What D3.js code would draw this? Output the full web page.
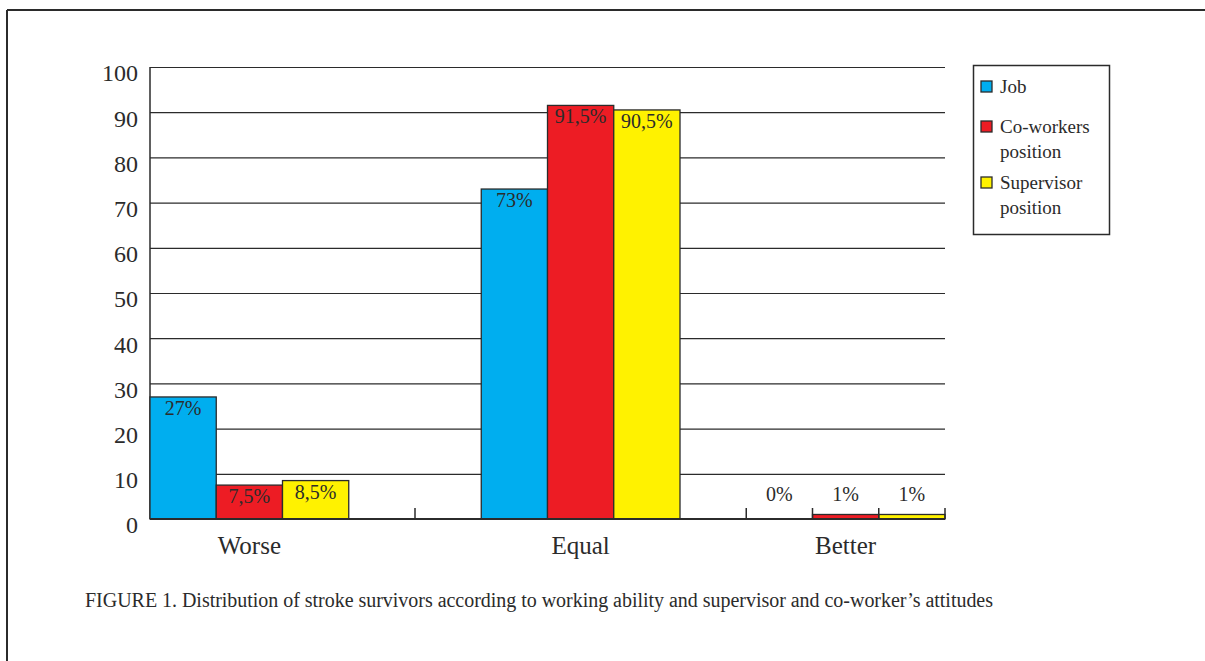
<!DOCTYPE html>
<html>
<head>
<meta charset="utf-8">
<script src="https://cdn.jsdelivr.net/npm/d3@7/dist/d3.min.js"></script>
<style>
  html, body { margin: 0; padding: 0; background: #fff; }
  svg { display: block; }
  text { font-family: "Liberation Serif", "DejaVu Serif", serif; fill: #2b2b2b; }
</style>
</head>
<body>
<svg id="chart" width="1205" height="661"></svg>
<script>
// Categories and series
const categories = ["Worse", "Equal", "Better"];
const seriesNames = ["Job", "Co-workers position", "Supervisor position"];
const jobValues = [27, 73, 0];
const coworkerValues = [7.5, 91.5, 1];
const supervisorValues = [8.5, 90.5, 1];
const yTickValues = [0, 10, 20, 30, 40, 50, 60, 70, 80, 90, 100];
const captionText = "FIGURE 1. Distribution of stroke survivors according to working ability and supervisor and co-worker\u2019s attitudes";

const seriesColors = ["#00aeef", "#ed1c24", "#fff200"];
const legendLines = [["Job"], ["Co-workers", "position"], ["Supervisor", "position"]];

// Category axis is split into 12 equal slots; each group occupies 3 slots
const slotOffsets = [0, 5, 9];
const tickSlots = [4, 9, 10, 11, 12];

const svg = d3.select("#chart");
const ink = "#2b2b2b";

// Outer frame (top and left rules)
svg.append("line").attr("x1", 7).attr("y1", 10).attr("x2", 1205).attr("y2", 10)
  .attr("stroke", ink).attr("stroke-width", 2);
svg.append("line").attr("x1", 7).attr("y1", 10).attr("x2", 7).attr("y2", 661)
  .attr("stroke", ink).attr("stroke-width", 2);

const plot = { left: 150, right: 945, top: 67, bottom: 519 };

const y = d3.scaleLinear().domain([0, 100]).range([plot.bottom, plot.top]);
const xSlot = d3.scaleLinear().domain([0, 12]).range([plot.left, plot.right]);

// Gridlines and y labels
const yAxis = d3.axisLeft(y)
  .tickValues(yTickValues)
  .tickSize(-(plot.right - plot.left))
  .tickPadding(12)
  .tickFormat(d3.format("d"));

const gy = svg.append("g")
  .attr("transform", `translate(${plot.left},0)`)
  .call(yAxis);
gy.select(".domain").remove();
gy.selectAll(".tick line").attr("stroke", ink).attr("stroke-width", 1.2);
gy.selectAll(".tick text")
  .attr("font-size", 24)
  .attr("fill", "#333")
  .attr("dy", "0.58em")
  .style("font-family", "'Liberation Serif', serif");

// Left axis rule
svg.append("line")
  .attr("x1", plot.left).attr("x2", plot.left)
  .attr("y1", y(100)).attr("y2", y(0))
  .attr("stroke", ink).attr("stroke-width", 1.5);

// Bars
const valuesBySeries = [jobValues, coworkerValues, supervisorValues];
const barData = [];
categories.forEach((cat, ci) => {
  valuesBySeries.forEach((vals, si) => {
    barData.push({ cat, ci, si, value: vals[ci] });
  });
});

const fmt = v => String(v).replace(".", ",") + "%";

const bars = svg.append("g");
bars.selectAll("rect")
  .data(barData.filter(d => d.value > 0))
  .join("rect")
  .attr("x", d => xSlot(slotOffsets[d.ci] + d.si))
  .attr("width", d => xSlot(1) - xSlot(0))
  .attr("y", d => y(d.value))
  .attr("height", d => y(0) - y(d.value))
  .attr("fill", d => seriesColors[d.si])
  .attr("stroke", ink)
  .attr("stroke-width", 1.3);

// Baseline
svg.append("line")
  .attr("x1", plot.left).attr("x2", plot.right)
  .attr("y1", y(0)).attr("y2", y(0))
  .attr("stroke", ink).attr("stroke-width", 2);

// Category tick marks
svg.append("g").selectAll("line")
  .data(tickSlots)
  .join("line")
  .attr("x1", d => xSlot(d)).attr("x2", d => xSlot(d))
  .attr("y1", y(0) - 11).attr("y2", y(0))
  .attr("stroke", ink).attr("stroke-width", 1.5);

// Value labels
svg.append("g").selectAll("text")
  .data(barData)
  .join("text")
  .attr("x", d => xSlot(slotOffsets[d.ci] + d.si + 0.5))
  .attr("y", d => d.value >= 5 ? y(d.value) + 18 : y(0) - 18)
  .attr("text-anchor", "middle")
  .attr("font-size", 20)
  .attr("fill", "#333")
  .text(d => fmt(d.value));

// Category labels
svg.append("g").selectAll("text")
  .data(categories)
  .join("text")
  .attr("x", (d, i) => xSlot(slotOffsets[i] + 1.5))
  .attr("y", 554)
  .attr("text-anchor", "middle")
  .attr("font-size", 25)
  .attr("fill", "#333")
  .text(d => d);

// Legend
const legend = svg.append("g");
legend.append("rect")
  .attr("x", 973.5).attr("y", 65.5).attr("width", 136).attr("height", 169)
  .attr("fill", "#fff").attr("stroke", ink).attr("stroke-width", 1.5);

const legendTops = [81, 121, 177];
const legendItems = legend.selectAll("g.item")
  .data(seriesNames)
  .join("g")
  .attr("class", "item")
  .attr("transform", (d, i) => `translate(981,${legendTops[i]})`);
legendItems.append("rect")
  .attr("width", 11).attr("height", 11)
  .attr("fill", (d, i) => seriesColors[i])
  .attr("stroke", ink).attr("stroke-width", 1.3);
legendItems.append("text")
  .attr("x", 19)
  .attr("y", 12)
  .attr("font-size", 19)
  .attr("fill", "#333")
  .selectAll("tspan")
  .data((d, i) => legendLines[i])
  .join("tspan")
  .attr("x", 19)
  .attr("dy", (d, j) => j === 0 ? 0 : 25)
  .text(d => d);

// Caption
svg.append("text")
  .attr("x", 85)
  .attr("y", 607)
  .attr("font-size", 20)
  .attr("fill", "#333")
  .attr("textLength", 908)
  .attr("lengthAdjust", "spacing")
  .text(captionText);
</script>
</body>
</html>
